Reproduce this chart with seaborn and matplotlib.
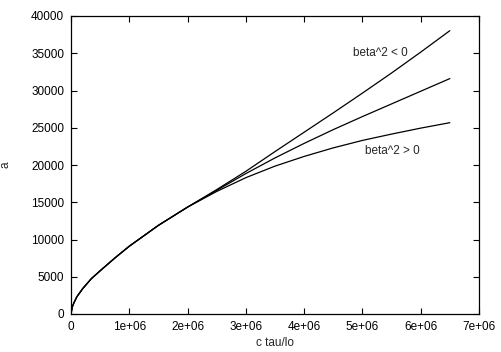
"""Growth of a(c tau/lo) for three beta^2 cases, gnuplot-style figure."""

import matplotlib
matplotlib.use("Agg")
import matplotlib.pyplot as plt
import numpy as np
import pandas as pd
import seaborn as sns

sns.set_theme(style="white")
plt.rcParams["font.family"] = ["Liberation Sans", "DejaVu Sans"]

# Values (x in units of 1e6).
x_common = [0, 0.02, 0.05, 0.1, 0.2, 0.35, 0.5, 0.75, 1.0, 1.5, 2.0]
a_common = [0, 900, 1500, 2300, 3400, 4750, 5800, 7500, 9100, 11900, 14350]

x_tail = [2.5, 3.0, 3.5, 4.0, 4.5, 5.0, 5.5, 6.0, 6.5]
a_neg = [16700, 19150, 21800, 24400, 27000, 29650, 32350, 35150, 38030]
a_zero = [16600, 18850, 20950, 22900, 24750, 26500, 28200, 29900, 31600]
a_pos = [16450, 18300, 19850, 21150, 22300, 23300, 24150, 24950, 25680]

series_names = ["beta^2 < 0", "beta^2 = 0", "beta^2 > 0"]

x_ticks = [0, 1e6, 2e6, 3e6, 4e6, 5e6, 6e6, 7e6]
x_tick_labels = ["0", "1e+06", "2e+06", "3e+06", "4e+06", "5e+06", "6e+06", "7e+06"]
y_ticks = [0, 5000, 10000, 15000, 20000, 25000, 30000, 35000, 40000]

frames = []
for name, tail in zip(series_names, [a_neg, a_zero, a_pos]):
    xs = np.array(x_common + x_tail) * 1e6
    frames.append(pd.DataFrame({"x": xs, "a": a_common + tail, "case": name}))
df = pd.concat(frames, ignore_index=True)

fig = plt.figure(figsize=(5.02, 3.52), dpi=100)
ax = fig.add_axes([71 / 502, 1 - 314 / 352, 408 / 502, 298 / 352])

sns.lineplot(
    data=df, x="x", y="a", units="case", estimator=None,
    color="black", linewidth=0.9, ax=ax, legend=False,
)

ax.set_xlim(0, 7e6)
ax.set_ylim(0, 40000)
ax.set_xticks(x_ticks)
ax.set_xticklabels(x_tick_labels)
ax.set_yticks(y_ticks)
ax.set_yticklabels([str(v) for v in y_ticks])
ax.tick_params(
    direction="in", length=4, width=0.8, colors="black", labelsize=8.5,
    top=True, right=True, bottom=True, left=True, pad=5,
)
for sp in ax.spines.values():
    sp.set_color("black")
    sp.set_linewidth(0.9)

ax.set_xlabel("c tau/lo", fontsize=8.5, labelpad=3)
ax.set_ylabel("a", fontsize=8.5)
# "a" sits about 11 px from the left edge in the reference
ax.yaxis.set_label_coords(-60 / 408, 0.5)

ax.text(5.30e6, 35030, "beta^2 < 0", fontsize=8.5, ha="center", va="center")
ax.text(5.51e6, 21880, "beta^2 > 0", fontsize=8.5, ha="center", va="center")

fig.savefig("out.png", dpi=100)
